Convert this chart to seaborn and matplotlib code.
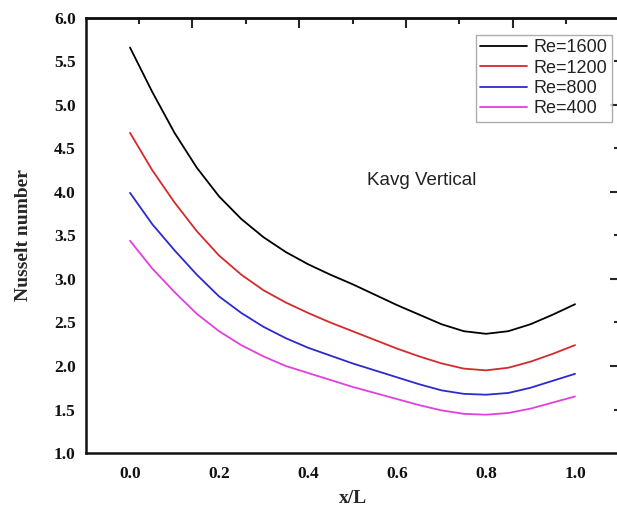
import numpy as np
import pandas as pd
import matplotlib
matplotlib.use("Agg")
import matplotlib.pyplot as plt
import seaborn as sns
from matplotlib.ticker import MultipleLocator, FixedLocator, NullFormatter

# Local Nusselt number along the channel, averaged conductivity, vertical case
x_over_L = [0.0, 0.05, 0.1, 0.15, 0.2, 0.25, 0.3, 0.35, 0.4, 0.45, 0.5,
            0.55, 0.6, 0.65, 0.7, 0.75, 0.8, 0.85, 0.9, 0.95, 1.0]
nu_re1600 = [5.66, 5.15, 4.68, 4.28, 3.95, 3.69, 3.48, 3.31, 3.17, 3.05, 2.94,
             2.82, 2.70, 2.59, 2.48, 2.40, 2.37, 2.40, 2.48, 2.59, 2.71]
nu_re1200 = [4.68, 4.25, 3.88, 3.55, 3.27, 3.05, 2.87, 2.73, 2.61, 2.50, 2.40,
             2.30, 2.20, 2.11, 2.03, 1.97, 1.95, 1.98, 2.05, 2.14, 2.24]
nu_re800 = [3.99, 3.63, 3.33, 3.05, 2.80, 2.61, 2.45, 2.32, 2.21, 2.12, 2.03,
            1.95, 1.87, 1.79, 1.72, 1.68, 1.67, 1.69, 1.75, 1.83, 1.91]
nu_re400 = [3.44, 3.12, 2.85, 2.60, 2.40, 2.24, 2.11, 2.00, 1.92, 1.84, 1.76,
            1.69, 1.62, 1.55, 1.49, 1.45, 1.44, 1.46, 1.51, 1.58, 1.65]

series_labels = ["Re=1600", "Re=1200", "Re=800", "Re=400"]
series_values = [nu_re1600, nu_re1200, nu_re800, nu_re400]
series_colors = ["#000000", "#d42a2a", "#2a2ad0", "#e040e0"]

df = pd.concat(
    [pd.DataFrame({"x": x_over_L, "Nu": vals, "series": lab})
     for lab, vals in zip(series_labels, series_values)],
    ignore_index=True,
)

sns.set_style("white")
plt.rcParams["font.family"] = ["Liberation Serif", "DejaVu Serif"]
plt.rcParams["lines.solid_joinstyle"] = "round"

fig = plt.figure(figsize=(6.17, 5.11), dpi=100)
ax = fig.add_axes([0.1386, 0.1135, 0.8655, 0.8513])

sns.lineplot(data=df, x="x", y="Nu", hue="series", hue_order=series_labels,
             palette=dict(zip(series_labels, series_colors)), linewidth=1.3,
             ax=ax, legend=False, sort=False)

ax.set_xlim(-0.1, 1.1)
ax.set_ylim(1.0, 6.0)

# bottom / left ticks with labels
ax.xaxis.set_major_locator(FixedLocator([0.0, 0.2, 0.4, 0.6, 0.8, 1.0]))
ax.xaxis.set_minor_locator(FixedLocator([0.1, 0.3, 0.5, 0.7, 0.9]))
ax.yaxis.set_major_locator(MultipleLocator(0.5))
ax.yaxis.set_minor_locator(MultipleLocator(0.25))
ax.xaxis.set_major_formatter(matplotlib.ticker.FormatStrFormatter("%.1f"))
ax.yaxis.set_major_formatter(matplotlib.ticker.FormatStrFormatter("%.1f"))

ax.tick_params(axis="both", which="major", direction="in", length=7, width=1.5,
               labelsize=12.5, pad=7, colors="#111111")
ax.tick_params(axis="x", which="major", pad=9)
ax.tick_params(axis="both", which="minor", direction="in", length=4, width=1.5)
for lab in ax.get_xticklabels() + ax.get_yticklabels():
    lab.set_fontweight("bold")

for sp in ax.spines.values():
    sp.set_visible(True)
    sp.set_linewidth(1.8)
    sp.set_color("#111111")

# top and right axes carry their own unlabeled ticks
top = ax.secondary_xaxis("top")
top.xaxis.set_major_locator(FixedLocator([0.14, 0.38, 0.62, 0.86]))
top.xaxis.set_minor_locator(FixedLocator([0.02, 0.26, 0.50, 0.74, 0.98]))
top.xaxis.set_major_formatter(NullFormatter())
top.tick_params(which="major", direction="in", length=7, width=1.5)
top.tick_params(which="minor", direction="in", length=4, width=1.5)
top.spines["top"].set_linewidth(1.8)

right = ax.secondary_yaxis("right")
right.yaxis.set_major_locator(FixedLocator([2.0, 3.0, 4.0, 5.0]))
right.yaxis.set_minor_locator(FixedLocator([1.5, 2.5, 3.5, 4.5, 5.5]))
right.yaxis.set_major_formatter(NullFormatter())
right.tick_params(which="major", direction="in", length=7, width=1.5)
right.tick_params(which="minor", direction="in", length=4, width=1.5)
right.spines["right"].set_linewidth(1.8)

ax.set_xlabel("x/L", fontsize=14, fontweight="bold", labelpad=6)
ax.set_ylabel("Nusselt number", fontsize=14, fontweight="bold", labelpad=16)

ax.text(0.533, 4.13, "Kavg Vertical", fontsize=13.5, va="center", ha="left",
        family=["Liberation Sans", "DejaVu Sans"], color="#222222")

handles = [plt.Line2D([], [], color=c, linewidth=1.3) for c in series_colors]
leg = ax.legend(handles, series_labels, loc="upper right",
                bbox_to_anchor=(0.986, 0.961), borderaxespad=0.0,
                frameon=True, fancybox=False, handlelength=2.6,
                handletextpad=0.35, labelspacing=0.18, borderpad=0.25,
                prop={"family": ["Liberation Sans", "DejaVu Sans"], "size": 13})
leg.get_frame().set_edgecolor("#999999")
leg.get_frame().set_linewidth(1.0)
for t in leg.get_texts():
    t.set_color("#222222")

fig.savefig("out.png", dpi=100)
